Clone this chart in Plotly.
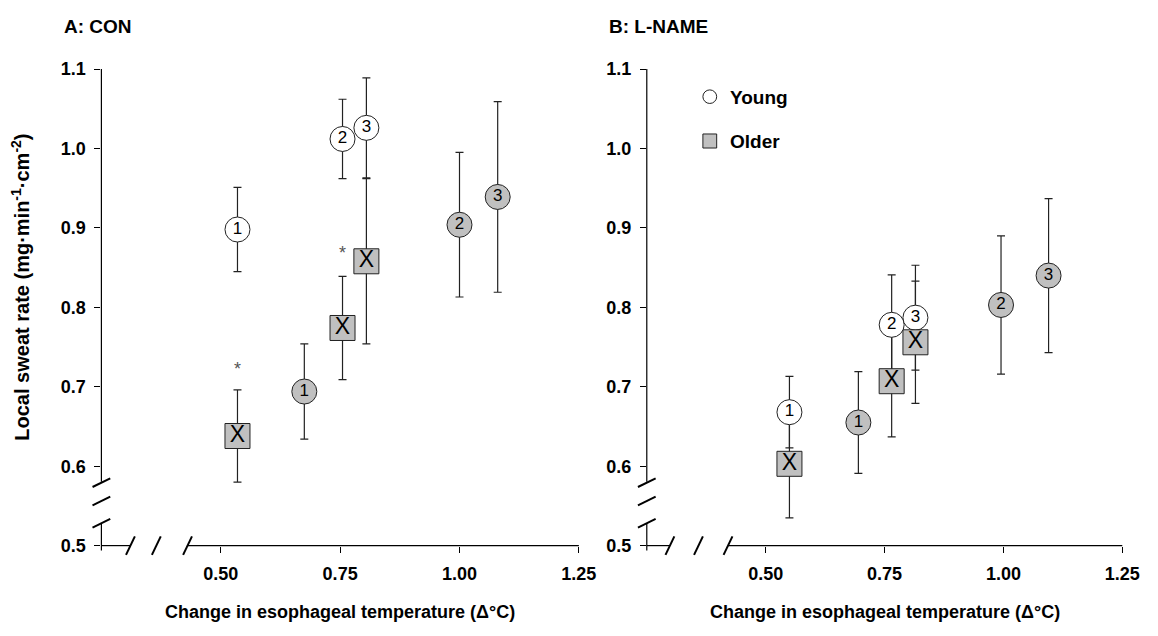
import plotly.graph_objects as go

# ---------------- data ----------------
# Panel A: CON
A_young_x = [0.535, 0.755, 0.805]
A_young_y = [0.898, 1.012, 1.026]
A_young_err = [0.053, 0.050, 0.063]
A_young_lbl = ["1", "2", "3"]

A_older_x = [0.675, 1.00, 1.08]
A_older_y = [0.694, 0.904, 0.939]
A_older_err = [0.060, 0.091, 0.120]
A_older_lbl = ["1", "2", "3"]

A_mean_x = [0.535, 0.755, 0.805]
A_mean_y = [0.638, 0.774, 0.858]
A_mean_err = [0.058, 0.065, 0.104]

A_sig_x = [0.535, 0.755]
A_sig_y = [0.720, 0.867]

# Panel B: L-NAME
B_young_x = [0.55, 0.765, 0.815]
B_young_y = [0.668, 0.778, 0.787]
B_young_err = [0.045, 0.063, 0.066]
B_young_lbl = ["1", "2", "3"]

B_older_x = [0.695, 0.995, 1.095]
B_older_y = [0.655, 0.803, 0.840]
B_older_err = [0.064, 0.087, 0.097]
B_older_lbl = ["1", "2", "3"]

B_mean_x = [0.55, 0.765, 0.815]
B_mean_y = [0.603, 0.707, 0.756]
B_mean_err = [0.068, 0.070, 0.077]

x_tickvals = [0.50, 0.75, 1.00, 1.25]
x_ticktext = ["0.50", "0.75", "1.00", "1.25"]
y_tickvals = [0.5, 0.6, 0.7, 0.8, 0.9, 1.0, 1.1]
y_ticktext = ["0.5", "0.6", "0.7", "0.8", "0.9", "1.0", "1.1"]

# ---------------- layout helpers ----------------
W, H = 1158, 636
def fx(px):
    return px / W
def fy(py):
    return 1 - py / H

FONT = "Arial, Liberation Sans, sans-serif"
GREY = "#c0c0c0"
EDGE = "#222222"

fig = go.Figure()
ERR = dict(type="data", visible=True, thickness=1.2, width=4, color=EDGE)

def add_errors(xa, ya, xs, ys, es):
    fig.add_trace(go.Scatter(
        x=xs, y=ys, mode="markers", xaxis=xa, yaxis=ya,
        error_y=dict(array=es, **ERR),
        marker=dict(size=1, opacity=0),
        showlegend=False, hoverinfo="skip"))

def add_markers(xa, ya, xs, ys, labels, symbol, fill, tsize):
    fig.add_trace(go.Scatter(
        x=xs, y=ys, text=labels, mode="markers+text", xaxis=xa, yaxis=ya,
        marker=dict(symbol=symbol, size=25, color=fill, line=dict(color=EDGE, width=1)),
        textfont=dict(family=FONT, size=tsize, color="black"), textposition="middle center",
        showlegend=False, hoverinfo="skip"))

# error bars first (beneath every marker)
add_errors("x", "y", A_older_x, A_older_y, A_older_err)
add_errors("x", "y", A_young_x, A_young_y, A_young_err)
add_errors("x", "y", A_mean_x, A_mean_y, A_mean_err)
add_errors("x2", "y2", B_older_x, B_older_y, B_older_err)
add_errors("x2", "y2", B_young_x, B_young_y, B_young_err)
add_errors("x2", "y2", B_mean_x, B_mean_y, B_mean_err)

add_markers("x", "y", A_older_x, A_older_y, A_older_lbl, "circle", GREY, 17)
add_markers("x", "y", A_young_x, A_young_y, A_young_lbl, "circle", "white", 17)
add_markers("x", "y", A_mean_x, A_mean_y, ["X"] * len(A_mean_x), "square", GREY, 23)
add_markers("x2", "y2", B_older_x, B_older_y, B_older_lbl, "circle", GREY, 17)
add_markers("x2", "y2", B_young_x, B_young_y, B_young_lbl, "circle", "white", 17)
add_markers("x2", "y2", B_mean_x, B_mean_y, ["X"] * len(B_mean_x), "square", GREY, 23)

fig.add_trace(go.Scatter(
    x=A_sig_x, y=A_sig_y, text=["*"] * len(A_sig_x), mode="text", xaxis="x", yaxis="y",
    textfont=dict(family=FONT, size=18, color="#555555"), textposition="middle center",
    showlegend=False, hoverinfo="skip"))

# axes
A_left, A_right = 103, 588
B_left, B_right = 657, 1140
TOP, BOT = 61, 553

axis_common = dict(showline=False, showgrid=False, zeroline=False,
                   ticks="outside", ticklen=6, tickwidth=1, tickcolor="black",
                   tickfont=dict(family=FONT, size=18, color="black", weight="bold"))

fig.update_layout(
    width=W, height=H,
    margin=dict(l=0, r=0, t=0, b=0),
    paper_bgcolor="white", plot_bgcolor="white",
    showlegend=False,
    xaxis=dict(domain=[fx(A_left), fx(A_right)], range=[0.25, 1.25], anchor="y",
               tickvals=x_tickvals, ticktext=x_ticktext, ticklabelstandoff=6, **axis_common),
    yaxis=dict(domain=[fy(BOT), fy(TOP)], range=[0.5, 1.1], anchor="x",
               tickvals=y_tickvals, ticktext=y_ticktext, ticklabelstandoff=5, **axis_common),
    xaxis2=dict(domain=[fx(B_left), fx(B_right)], range=[0.25, 1.25], anchor="y2",
                tickvals=x_tickvals, ticktext=x_ticktext, ticklabelstandoff=6, **axis_common),
    yaxis2=dict(domain=[fy(BOT), fy(TOP)], range=[0.5, 1.1], anchor="x2",
                tickvals=y_tickvals, ticktext=y_ticktext, ticklabelstandoff=5, **axis_common),
)

shapes = []
def pline(x0, y0, x1, y1, w=1.2):
    shapes.append(dict(type="line", xref="paper", yref="paper",
                       x0=fx(x0), y0=fy(y0), x1=fx(x1), y1=fy(y1),
                       line=dict(color="black", width=w)))

def broken_axes(left, right, xbreaks):
    # y axis with break
    pline(left, TOP, left, 487)
    pline(left, 530, left, BOT + 5)
    for yc in (488, 507, 530):
        pline(left - 9, yc + 4.5, left + 9, yc - 4.5, 2)
    # x axis with break
    pline(left, BOT, xbreaks[0], BOT)
    pline(xbreaks[2], BOT, right, BOT)
    for xc in xbreaks:
        pline(xc - 4.5, BOT + 9.5, xc + 4.5, BOT - 9.5, 2)

broken_axes(A_left, A_right, (132.5, 158.8, 190.5))
broken_axes(B_left, B_right, (680.5, 709.5, 739.5))

# legend (panel B)
shapes.append(dict(type="circle", xref="paper", yref="paper",
                   x0=fx(714), x1=fx(728), y0=fy(96.5), y1=fy(82.5),
                   fillcolor="white", line=dict(color=EDGE, width=1)))
shapes.append(dict(type="rect", xref="paper", yref="paper",
                   x0=fx(714), x1=fx(728), y0=fy(142.5), y1=fy(128),
                   fillcolor=GREY, line=dict(color=EDGE, width=1)))
fig.update_layout(shapes=shapes)

ann = []
def text(x, y, s, size=18, xanchor="left", angle=0, bold=True):
    ann.append(dict(xref="paper", yref="paper", x=fx(x), y=fy(y), text=s,
                    showarrow=False, xanchor=xanchor, yanchor="middle", textangle=angle,
                    font=dict(family=FONT, size=size, color="black",
                              weight="bold" if bold else "normal")))

text(63, 17, "A: CON", 19)
text(617, 17, "B: L-NAME", 19)
text(740, 90, "Young", 19)
text(740, 136, "Older", 19)
text((A_left + A_right) / 2, 622, "Change in esophageal temperature (Δ°C)", 18, xanchor="center")
text((B_left + B_right) / 2, 622, "Change in esophageal temperature (Δ°C)", 18, xanchor="center")
text(20, 286, "Local sweat rate (mg·min<sup>-1</sup>·cm<sup>-2</sup>)", 20, xanchor="center", angle=-90)
fig.update_layout(annotations=ann)

fig.write_html("out.html")
